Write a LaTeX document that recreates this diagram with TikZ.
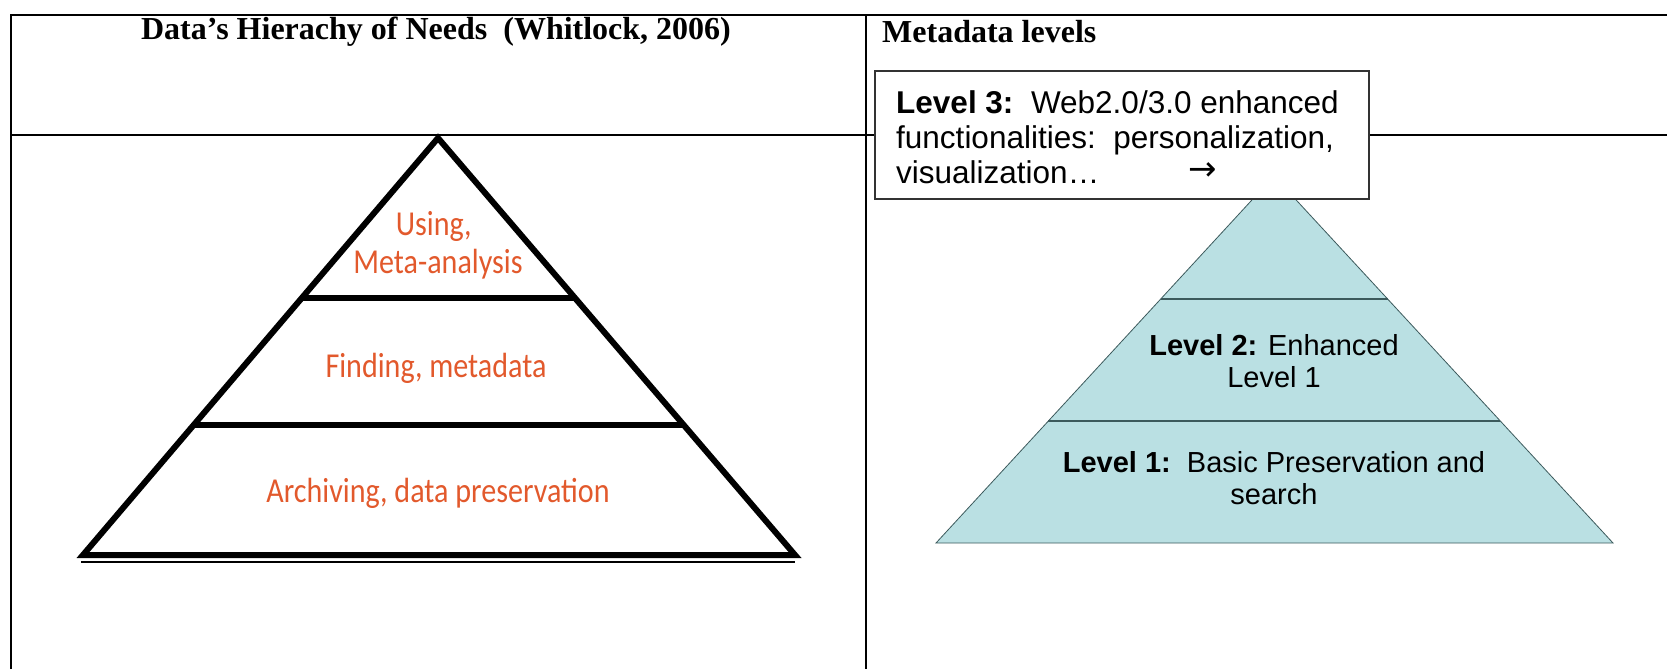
\documentclass[tikz,border=0pt]{standalone}
\usepackage{fontspec}
\setmainfont{Liberation Serif}
\newfontfamily\arialfont{Liberation Sans}
\newfontfamily\needfont{Carlito}
\newfontfamily\arrowfont{DejaVu Sans}
\usetikzlibrary{calc}

\definecolor{needorange}{HTML}{E2592C}
\definecolor{levelblue}{HTML}{BAE0E3}
\definecolor{leveledge}{HTML}{3C5A5C}

% waski napis (jak Myriad Condensed)
\newcommand{\needlabel}[1]{\scalebox{0.86}[1]{\begin{tabular}{@{}c@{}}#1\end{tabular}}}

\begin{document}
\begin{tikzpicture}[x=1pt, y=-1pt,
        table line/.style={line width=1.6pt, black},
        head text/.style={font=\bfseries\fontsize{32}{36}\selectfont, inner sep=0pt},
        need text/.style={text=needorange, font=\needfont\fontsize{35}{38}\selectfont, inner sep=0pt},
        level text/.style={font=\arialfont\fontsize{29}{32}\selectfont, align=center, inner sep=0pt}]

    \useasboundingbox (0,0) rectangle (1667,669);

    % Tabela
    \draw[table line] (11,669) -- (11,15) -- (1667,15);
    \draw[table line] (866,15) -- (866,669);
    \draw[table line] (11,135) -- (1667,135);

    \node[head text] (head1) at (436,32) {Data’s Hierachy of Needs\ \ (Whitlock, 2006)};
    \node[head text, anchor=west] (head2) at (882,32) {Metadata levels};

    % Piramida lewa
    \coordinate (ltop) at (438,138);
    \coordinate (lleft) at (83,555);
    \coordinate (lright) at (795,555);
    \draw[line width=6pt, line join=miter] (lleft) -- (ltop) -- (lright) -- cycle;
    \draw[line width=6pt] ($(ltop)!0.384!(lleft)$) -- ($(ltop)!0.384!(lright)$);
    \draw[line width=6pt] ($(ltop)!0.688!(lleft)$) -- ($(ltop)!0.688!(lright)$);
    \draw[line width=2pt] (81,562) -- (795,562);

    \node[need text] (using) at (438,247) {\needlabel{\hspace*{-10pt}Using,\\Meta-analysis}};
    \node[need text] (finding) at (436,370) {\needlabel{Finding, metadata}};
    \node[need text] (archiving) at (438,495) {\needlabel{Archiving, data preservation}};

    % Piramida prawa
    \coordinate (rtop) at (1274,176);
    \coordinate (rleft) at (936,543);
    \coordinate (rright) at (1613,543);
    \filldraw[fill=levelblue, draw=leveledge, line width=0.8pt] (rleft) -- (rtop) -- (rright) -- cycle;
    \draw[leveledge, line width=1.5pt] ($(rtop)!0.335!(rleft)$) -- ($(rtop)!0.335!(rright)$);
    \draw[leveledge, line width=1.5pt] ($(rtop)!0.668!(rleft)$) -- ($(rtop)!0.668!(rright)$);

    \node[level text] (level2) at (1274,361) {\textbf{Level 2:} Enhanced\\Level 1};
    \node[level text] (level1) at (1274,478) {\textbf{Level 1:}\ \ Basic Preservation and\\search};

    % Ramka poziomu 3
    \node[draw=black!80, line width=1.5pt, fill=white, minimum width=494pt, minimum height=128pt,
          anchor=north west, inner sep=0pt] (level3box) at (874,70) {};
    \node[level text, font=\arialfont\fontsize{31.5}{35}\selectfont, align=left, anchor=west] (level3)
        at (896,137) {\textbf{Level 3:}\ \ Web2.0/3.0 enhanced\\functionalities:\ \ personalization,\\visualization…};
    \node[inner sep=0pt, font=\arrowfont\fontsize{34}{38}\selectfont] (level3arrow) at (1203,172) {→};
\end{tikzpicture}
\end{document}
